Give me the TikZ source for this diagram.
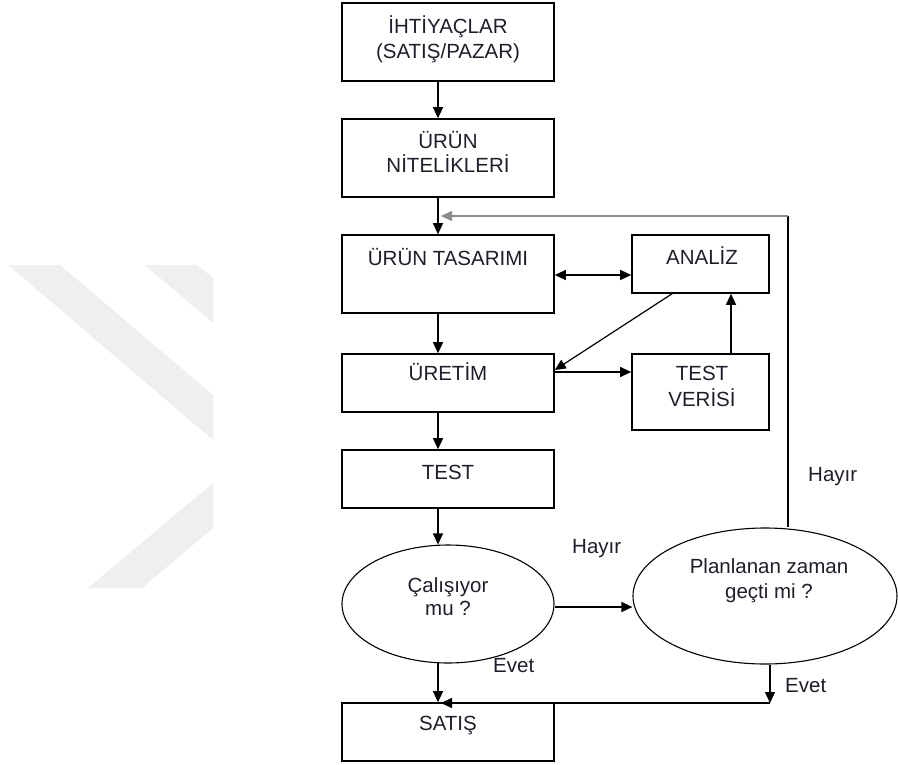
\documentclass[tikz,border=0pt]{standalone}
\usepackage{fontspec}
\setmainfont{Liberation Sans}
\usetikzlibrary{arrows.meta,shapes.geometric}
\definecolor{ink}{RGB}{30,30,42}
\definecolor{wmgray}{RGB}{239,239,239}
\begin{document}
\begin{tikzpicture}[x=1pt,y=-1pt,
  tip/.tip={Triangle[length=11pt,width=10pt]},
  box/.style={draw=black,line width=1.6pt,rectangle,inner sep=0pt,minimum width=212pt},
  oval/.style={draw=black,line width=1.1pt,ellipse,inner sep=0pt},
  txt/.style={text=ink,font=\fontsize{20.5}{24}\selectfont,inner sep=0pt,anchor=base},
  lbl/.style={text=ink,font=\fontsize{20.5}{24}\selectfont,inner sep=0pt,anchor=base west},
  conn/.style={draw=black,line width=1.2pt,-tip},
  plain/.style={draw=black,line width=1.2pt},
  back/.style={draw=black!45,line width=1.6pt}]
\useasboundingbox (0,0) rectangle (898,764);

% faint chevron background
\fill[wmgray] (8,265) -- (60,265) -- (213,395) -- (213,440) -- cycle;
\fill[wmgray] (145,265) -- (197,265) -- (213,278) -- (213,323) -- cycle;
\fill[wmgray] (213,483) -- (213,528) -- (142,588) -- (88,588) -- cycle;

% boxes
\node[box,minimum height=78pt] (ihti) at (448,42) {};
\node[box,minimum height=78pt] (nite) at (448,158) {};
\node[box,minimum height=78pt] (tasa) at (448,274) {};
\node[box,minimum width=137pt,minimum height=58pt] (anal) at (700.5,264) {};
\node[box,minimum height=58pt] (uret) at (448,383) {};
\node[box,minimum width=137pt,minimum height=76pt] (veri) at (700.5,392) {};
\node[box,minimum height=58pt] (test) at (448,479) {};
\node[oval,minimum width=212pt,minimum height=118pt] (calis) at (448,604) {};
\node[oval,minimum width=264pt,minimum height=136pt] (plan) at (765,596) {};
\node[box,minimum height=58pt] (satis) at (448,732) {};

% box texts
\node[txt] (t-ihti1) at (448,33) {İHTİYAÇLAR};
\node[txt] (t-ihti2) at (448,58) {(SATIŞ/PAZAR)};
\node[txt] (t-nite1) at (448,148) {ÜRÜN};
\node[txt] (t-nite2) at (448,172) {NİTELİKLERİ};
\node[txt] (t-tasa) at (448,265) {ÜRÜN TASARIMI};
\node[txt] (t-anal) at (702,264) {ANALİZ};
\node[txt] (t-uret) at (448,380) {ÜRETİM};
\node[txt] (t-veri1) at (702,380) {TEST};
\node[txt] (t-veri2) at (702,406) {VERİSİ};
\node[txt] (t-test) at (448,479) {TEST};
\node[txt] (t-calis1) at (448,592) {Çalışıyor};
\node[txt] (t-calis2) at (448,615) {mu ?};
\node[txt] (t-plan1) at (769,573) {Planlanan zaman};
\node[txt] (t-plan2) at (769,598) {geçti mi ?};
\node[txt] (t-satis) at (448,730) {SATIŞ};

% branch labels
\node[lbl] (hayir1) at (572,553) {Hayır};
\node[lbl] (hayir2) at (808,481) {Hayır};
\node[lbl] (evet1) at (493,672) {Evet};
\node[lbl] (evet2) at (785,692) {Evet};

% helper points of the return paths
\coordinate (fbk) at (788,216);
\coordinate (fbend) at (441,216);
\coordinate (evj) at (770,703);

% main flow
\draw[conn] ([xshift=-10pt]ihti.south) -- ([xshift=-10pt]nite.north);
\draw[conn] ([xshift=-10pt]nite.south) -- ([xshift=-10pt]tasa.north);
\draw[conn] ([xshift=-10pt]tasa.south) -- ([xshift=-10pt]uret.north);
\draw[conn] ([xshift=-10pt]uret.south) -- ([xshift=-10pt]test.north);
\draw[conn] ([xshift=-10pt]test.south) -- ([xshift=-10pt]test.south |- calis.north);
\draw[conn] ([xshift=-10pt,yshift=0.5pt]calis.south) -- ([xshift=-10pt]satis.north);

% design / analysis loop
\draw[conn,tip-tip] ([yshift=-1pt]tasa.east) -- ([yshift=-1pt]tasa.east -| anal.west);
\draw[conn] ([xshift=-28.5pt]anal.south) -- ([yshift=13pt]uret.east);
\draw[conn] ([yshift=11pt]uret.east) -- ([yshift=11pt]uret.east -| veri.west);
\draw[conn] ([xshift=30.5pt]veri.north) -- ([xshift=30.5pt]anal.south);

% decisions
\draw[conn] ([yshift=-3pt]calis.east) -- ([yshift=-3pt]calis.east -| plan.west);
\draw[plain] (plan.north -| fbk) -- (fbk);
\draw[back,-tip] (fbk) -- (fbend);
\draw[conn] (plan.south -| evj) -- (evj);
\draw[conn] (evj) -- (evj -| fbend);
\end{tikzpicture}
\end{document}
